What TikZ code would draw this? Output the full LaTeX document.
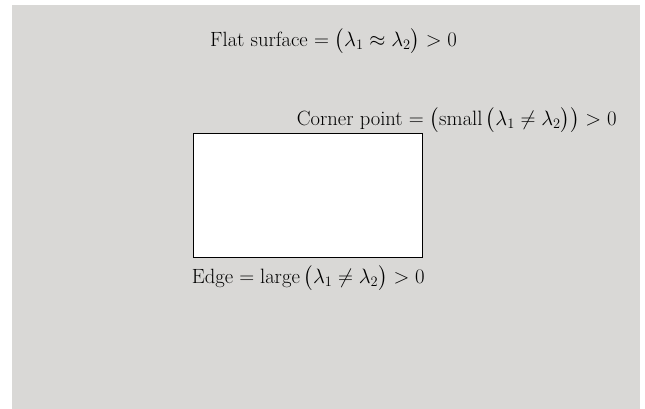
\documentclass[tikz,border=0pt]{standalone}
\usepackage{amsmath}
\usetikzlibrary{positioning}
\definecolor{panelgray}{RGB}{217,216,214}

\begin{document}
\begin{tikzpicture}[x=1pt, y=-1pt,
    eqlabel/.style={anchor=base west, inner sep=0pt,
                    font=\fontsize{20.6}{24}\selectfont},
    patch/.style={draw, fill=white, line width=0.9pt}
  ]
  \useasboundingbox (0,0) rectangle (645,409);
  \fill[panelgray] (11.5,5) rectangle (640,409);

  % image patch
  \draw[patch] (193,133) rectangle (422,257);

  \node[eqlabel] (flat) at (210,46.7)
    {Flat surface $=\bigl(\lambda_1 \approx \lambda_2\bigr) > 0$};
  \node[eqlabel] (corner) at (296.7,125.7)
    {Corner point $=\bigl(\mathrm{small}\,\bigl(\lambda_1 \neq \lambda_2\bigr)\bigr) > 0$};
  \node[eqlabel] (edge) at (191.7,283)
    {Edge $=\mathrm{large}\,\bigl(\lambda_1 \neq \lambda_2\bigr) > 0$};
\end{tikzpicture}
\end{document}
